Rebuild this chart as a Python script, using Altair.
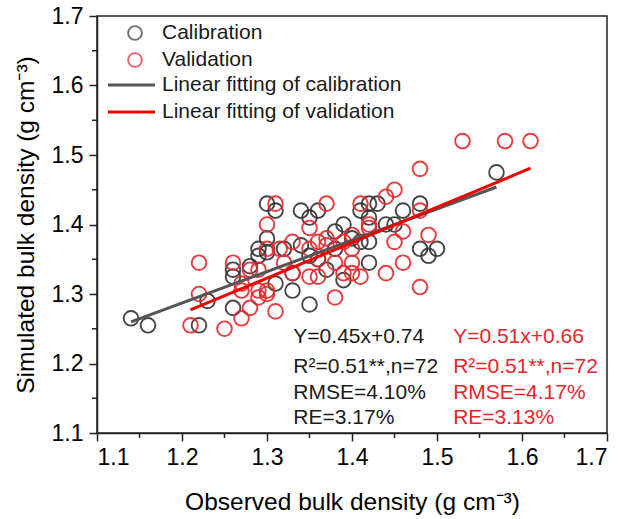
import altair as alt
import pandas as pd

# ---- data ----
cal_x = [1.14, 1.16, 1.22, 1.26, 1.23, 1.26, 1.26, 1.30, 1.29, 1.30, 1.29, 1.31, 1.34, 1.35,
         1.36, 1.39, 1.41, 1.42, 1.42, 1.30, 1.32, 1.33, 1.33, 1.35, 1.31, 1.38, 1.39, 1.42,
         1.42, 1.41, 1.37, 1.35, 1.57, 1.43, 1.46, 1.48, 1.44, 1.45, 1.48, 1.49, 1.50, 1.28,
         1.34, 1.36, 1.40, 1.38]
cal_y = [1.265, 1.255, 1.255, 1.28, 1.29, 1.325, 1.335, 1.43, 1.365, 1.38, 1.355, 1.42, 1.42, 1.41,
         1.42, 1.40, 1.42, 1.43, 1.41, 1.36, 1.365, 1.33, 1.305, 1.285, 1.315, 1.365, 1.32, 1.345,
         1.375, 1.375, 1.335, 1.355, 1.475, 1.43, 1.42, 1.43, 1.40, 1.40, 1.365, 1.355, 1.365, 1.34,
         1.37, 1.35, 1.38, 1.39]

val_x = [1.53, 1.58, 1.61, 1.48, 1.45, 1.44, 1.49, 1.46, 1.45, 1.48, 1.46, 1.44, 1.48, 1.42,
         1.31, 1.37, 1.41, 1.30, 1.35, 1.42, 1.33, 1.36, 1.37, 1.40, 1.30, 1.315, 1.35, 1.37,
         1.39, 1.40, 1.32, 1.36, 1.38, 1.40, 1.33, 1.35, 1.36, 1.39, 1.40, 1.41, 1.29, 1.30,
         1.31, 1.38, 1.22, 1.22, 1.21, 1.25, 1.27, 1.26, 1.28, 1.29, 1.27, 1.28, 1.29, 1.30, 1.27]
val_y = [1.52, 1.52, 1.52, 1.48, 1.45, 1.44, 1.385, 1.39, 1.375, 1.42, 1.345, 1.33, 1.31, 1.395,
         1.43, 1.43, 1.43, 1.40, 1.395, 1.40, 1.375, 1.375, 1.38, 1.385, 1.365, 1.365, 1.365, 1.37,
         1.375, 1.365, 1.345, 1.35, 1.345, 1.345, 1.33, 1.325, 1.325, 1.33, 1.33, 1.325, 1.305, 1.30,
         1.275, 1.295, 1.345, 1.30, 1.255, 1.25, 1.265, 1.345, 1.335, 1.335, 1.305, 1.28, 1.295, 1.305, 1.315]

cal_fit_x = [1.14, 1.57]
cal_fit_y = [1.26, 1.454]
val_fit_x = [1.21, 1.61]
val_fit_y = [1.277, 1.481]

major_ticks = [1.1, 1.2, 1.3, 1.4, 1.5, 1.6, 1.7]
minor_ticks = [1.15, 1.25, 1.35, 1.45, 1.55, 1.65]

cal_stats = ["Y=0.45x+0.74", "R²=0.51**,n=72", "RMSE=4.10%", "RE=3.17%"]
val_stats = ["Y=0.51x+0.66", "R²=0.51**,n=72", "RMSE=4.17%", "RE=3.13%"]
stats_y = [1.2385, 1.1955, 1.158, 1.122]
cal_stats_x = 1.331
val_stats_x = 1.519

legend_labels = ["Calibration", "Validation", "Linear fitting of calibration", "Linear fitting of validation"]
legend_rows_px = [17, 44, 69, 96]

BLACK = "#333333"
RED = "#e8262a"
LINE_BLACK = "#555555"
LINE_RED = "#ee0000"
TEXT_BLACK = "#1a1a1a"
FONT = "Liberation Sans"

W, H = 510, 417

xs = alt.Scale(domain=[1.1, 1.7], nice=False, zero=False)
ys = alt.Scale(domain=[1.1, 1.7], nice=False, zero=False)

pts = pd.DataFrame({
    "obs": cal_x + val_x,
    "sim": cal_y + val_y,
    "grp": ["Calibration"] * len(cal_x) + ["Validation"] * len(val_x),
})
fits = pd.DataFrame({
    "obs": cal_fit_x + val_fit_x,
    "sim": cal_fit_y + val_fit_y,
    "grp": ["Calibration"] * 2 + ["Validation"] * 2,
})

xaxis = alt.Axis(values=major_ticks, format=".1f", title="Observed bulk density (g cm⁻³)",
                 tickSize=8, tickWidth=1.5, labelPadding=5, titlePadding=21, grid=False)
yaxis = alt.Axis(values=major_ticks, format=".1f", title="Simulated bulk density (g cm⁻³)",
                 tickSize=8, tickWidth=1.5, labelPadding=6, titlePadding=13, grid=False)

points = alt.Chart(pts).mark_point(filled=False, size=215, strokeWidth=1.9, opacity=0.9).encode(
    x=alt.X("obs:Q", scale=xs, axis=xaxis),
    y=alt.Y("sim:Q", scale=ys, axis=yaxis),
    color=alt.Color("grp:N", scale=alt.Scale(domain=["Calibration", "Validation"], range=[BLACK, RED]), legend=None),
)

lines = alt.Chart(fits).mark_line(strokeWidth=3).encode(
    x=alt.X("obs:Q", scale=xs),
    y=alt.Y("sim:Q", scale=ys),
    stroke=alt.Stroke("grp:N", scale=alt.Scale(domain=["Calibration", "Validation"], range=[LINE_BLACK, LINE_RED]), legend=None),
    detail="grp:N",
)

minor_x = alt.Chart(pd.DataFrame({"v": minor_ticks})).mark_rule(color="#222222", strokeWidth=1.5).encode(
    x=alt.X("v:Q", scale=xs), y=alt.value(H), y2=alt.value(H + 5))
minor_y = alt.Chart(pd.DataFrame({"v": minor_ticks})).mark_rule(color="#222222", strokeWidth=1.5).encode(
    y=alt.Y("v:Q", scale=ys), x=alt.value(0), x2=alt.value(-5))

stats_df = pd.DataFrame({
    "t": cal_stats + val_stats,
    "x": [cal_stats_x] * 4 + [val_stats_x] * 4,
    "y": stats_y * 2,
    "grp": ["Calibration"] * 4 + ["Validation"] * 4,
})
stats = alt.Chart(stats_df).mark_text(align="left", baseline="middle", fontSize=21, font=FONT).encode(
    x=alt.X("x:Q", scale=xs), y=alt.Y("y:Q", scale=ys), text="t:N",
    fill=alt.Fill("grp:N", scale=alt.Scale(domain=["Calibration", "Validation"], range=[TEXT_BLACK, RED]), legend=None),
)

# legend (manual, one small layer per entry)
leg_layers = []
for i, lab in enumerate(legend_labels):
    row = pd.DataFrame({"t": [lab]})
    leg_layers.append(
        alt.Chart(row).mark_text(align="left", baseline="middle", fontSize=21, font=FONT, color=TEXT_BLACK)
        .encode(text="t:N", x=alt.value(65), y=alt.value(legend_rows_px[i]))
    )
for i, col in enumerate([BLACK, RED]):
    leg_layers.append(
        alt.Chart(pd.DataFrame({"t": [legend_labels[i]]})).mark_point(
            filled=False, size=190, strokeWidth=1.9, color=col)
        .encode(x=alt.value(38), y=alt.value(legend_rows_px[i]))
    )
for i, col in zip([2, 3], [LINE_BLACK, LINE_RED]):
    leg_layers.append(
        alt.Chart(pd.DataFrame({"t": [legend_labels[i]]})).mark_rule(strokeWidth=3, color=col)
        .encode(x=alt.value(11), x2=alt.value(58), y=alt.value(legend_rows_px[i]))
    )

chart = alt.layer(points, lines, minor_x, minor_y, stats, *leg_layers).properties(
    width=W, height=H,
    autosize=alt.AutoSizeParams(type="none"),
    padding={"left": 97, "top": 16, "right": 23, "bottom": 86},
    background="white",
).configure_view(
    stroke="#222222", strokeWidth=1.5
).configure_axis(
    labelFont=FONT, titleFont=FONT, labelFontSize=23, titleFontSize=24.5,
    labelColor="black", titleColor="black", titleFontWeight="normal",
    domainColor="#222222", domainWidth=1.5, tickColor="#222222",
)

chart.save("out.html", embed_options={"renderer": "svg", "actions": False})
